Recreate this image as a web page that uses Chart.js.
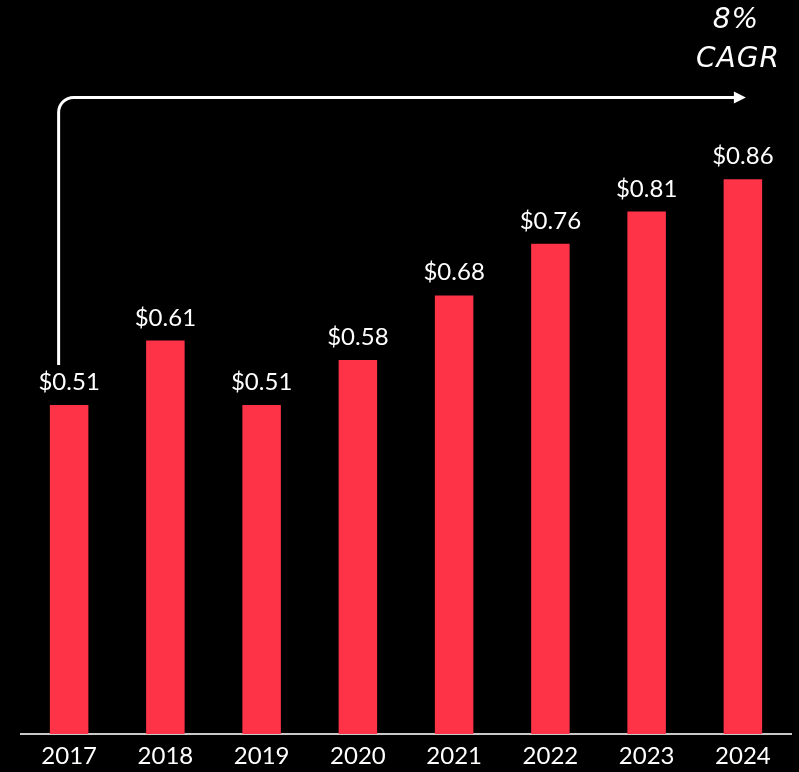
<!DOCTYPE html>
<html>
<head>
<meta charset="utf-8">
<script src="https://cdn.jsdelivr.net/npm/chart.js@4/dist/chart.umd.min.js"></script>
<style>
  html, body { margin: 0; padding: 0; background: #000; }
  #wrap { width: 799px; height: 772px; }
</style>
</head>
<body>
<div id="wrap"><canvas id="myChart" width="799" height="772"></canvas></div>
<script>
const years = ["2017", "2018", "2019", "2020", "2021", "2022", "2023", "2024"]
const dividends = [0.51, 0.61, 0.51, 0.58, 0.68, 0.76, 0.81, 0.86]
const cagrLines = ["8%", "CAGR"]

const barRed = "rgb(255, 51, 72)"
const fontFamily = "Lato, 'Noto Sans', sans-serif"

// value labels above each bar
const barLabels = {
    id: "barLabels",
    afterDatasetsDraw(chart) {
        const ctx = chart.ctx
        const meta = chart.getDatasetMeta(0)
        ctx.save()
        ctx.fillStyle = "#fff"
        ctx.font = `24px ${fontFamily}`
        ctx.textAlign = "center"
        ctx.textBaseline = "alphabetic"
        meta.data.forEach((bar, i) => {
            ctx.fillText("$" + dividends[i].toFixed(2), bar.x, bar.y - 15)
        })
        ctx.restore()
    }
}

// bent arrow + CAGR note
const cagrArrow = {
    id: "cagrArrow",
    afterDraw(chart) {
        const ctx = chart.ctx
        const x = chart.scales.x
        const y = chart.scales.y
        const left = x.getPixelForValue(0) - 10.5
        const right = x.getPixelForValue(7) + 1
        const top = y.getPixelForValue(0.987)
        const bottom = y.getPixelForValue(dividends[0]) - 40
        const r = 15
        ctx.save()
        ctx.strokeStyle = "#fff"
        ctx.fillStyle = "#fff"
        ctx.lineWidth = 3
        ctx.beginPath()
        ctx.moveTo(left, bottom)
        ctx.lineTo(left, top + r)
        ctx.arcTo(left, top, left + r, top, r)
        ctx.lineTo(right - 8, top)
        ctx.stroke()
        ctx.beginPath()
        ctx.moveTo(right + 2, top)
        ctx.lineTo(right - 10, top - 6)
        ctx.lineTo(right - 10, top + 6)
        ctx.closePath()
        ctx.fill()

        ctx.font = `oblique 28px 'DejaVu Sans', sans-serif`
        ctx.letterSpacing = "1px"
        ctx.textAlign = "center"
        ctx.textBaseline = "alphabetic"
        ctx.fillText(cagrLines[0], 736, 28)
        ctx.fillText(cagrLines[1], 738, 67)
        ctx.restore()
    }
}

const ctx = document.getElementById("myChart").getContext("2d")
const chart = new Chart(ctx, {
    type: "bar",
    data: {
        labels: years,
        datasets: [
            {
                data: dividends,
                backgroundColor: barRed,
                borderWidth: 0,
                categoryPercentage: 1,
                barPercentage: 0.4
            }
        ]
    },
    options: {
        responsive: false,
        animation: false,
        devicePixelRatio: 1,
        layout: { padding: { left: 21, right: 8, top: 89, bottom: -6 } },
        plugins: {
            legend: { display: false },
            tooltip: { enabled: false }
        },
        scales: {
            x: {
                grid: { display: false, drawTicks: false },
                border: { display: true, color: "#c8c8c8", width: 2 },
                ticks: {
                    color: "#fff",
                    padding: 10,
                    font: { family: fontFamily, size: 24, lineHeight: 1 }
                }
            },
            y: {
                display: false,
                min: 0,
                max: 1.0
            }
        }
    },
    plugins: [barLabels, cagrArrow]
}) // closes chart
</script>
</body>
</html>
